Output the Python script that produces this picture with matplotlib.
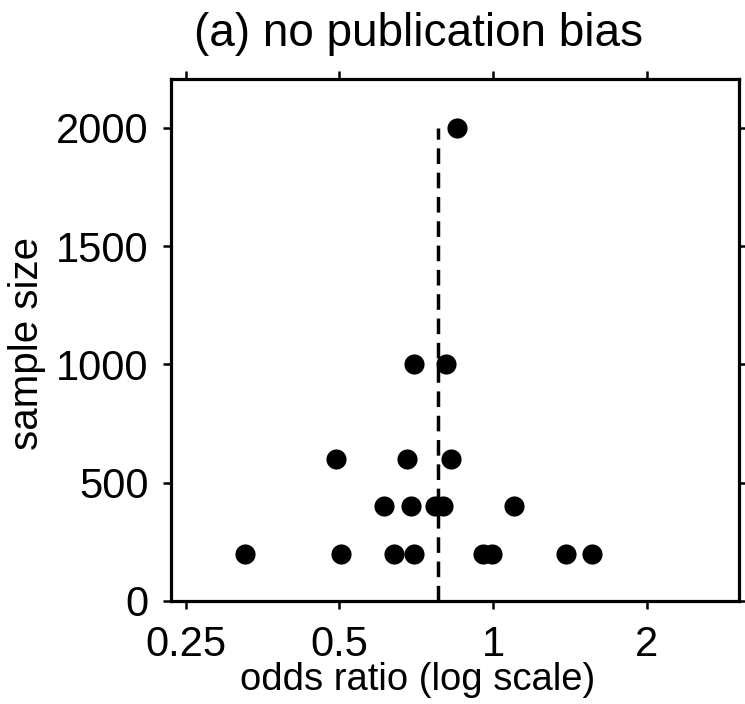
import matplotlib
matplotlib.use("Agg")
import matplotlib.pyplot as plt
import numpy as np

plt.rcParams['font.family'] = ['Liberation Sans', 'DejaVu Sans']

# Data
odds_ratio = [0.850,
              0.700, 0.809,
              0.493, 0.678, 0.827,
              0.612, 0.691, 0.770, 0.798, 1.10,
              0.327, 0.504, 0.640, 0.700, 0.956, 0.995, 1.39, 1.563]
sample_size = [2000,
               1000, 1000,
               600, 600, 600,
               400, 400, 400, 400, 400,
               200, 200, 200, 200, 200, 200, 200, 200]
pooled_or = 0.78
pooled_top = 2000
x_ticks = [0.25, 0.5, 1, 2]
x_tick_labels = ["0.25", "0.5", "1", "2"]
y_ticks = [0, 500, 1000, 1500, 2000]
y_tick_labels = ["0", "500", "1000", "1500", "2000"]

W, H = 745, 704
fig = plt.figure(figsize=(W / 100, H / 100), dpi=100)
L, R, T, B = 171, 739, 79, 601
ax = fig.add_axes([L / W, (H - B) / H, (R - L) / W, (B - T) / H])

ax.set_xscale('log')
ax.set_xlim(0.234, 3.03)
ax.set_ylim(0, 2207)

ax.plot([pooled_or, pooled_or], [0, pooled_top], color='black', lw=2.5,
        dashes=(4.5, 2.5), zorder=2)
ax.plot(odds_ratio, sample_size, 'o', color='black', markersize=14.5,
        markeredgewidth=0, zorder=3)

ax.xaxis.set_minor_locator(matplotlib.ticker.NullLocator())
ax.set_xticks(x_ticks)
ax.set_xticklabels(x_tick_labels)
ax.xaxis.set_minor_locator(matplotlib.ticker.NullLocator())
ax.set_yticks(y_ticks)
ax.set_yticklabels(y_tick_labels)

for s in ax.spines.values():
    s.set_linewidth(2.3)
ax.tick_params(axis='both', which='major', direction='out', length=6, width=1.8,
               labelsize=30, top=True, right=True, colors='black')
ax.tick_params(axis='x', pad=11)
ax.tick_params(axis='y', pad=10)

fig.text(418 / W, 1 - 46 / H, "(a) no publication bias", fontsize=33,
         ha='center', va='baseline')
fig.text(418 / W, 1 - 690 / H, "odds ratio (log scale)", fontsize=27.5,
         ha='center', va='baseline')
fig.text(27 / W, 1 - 343 / H, "sample size", fontsize=29, rotation=90,
         ha='center', va='center')

fig.savefig("out.png", dpi=100)
